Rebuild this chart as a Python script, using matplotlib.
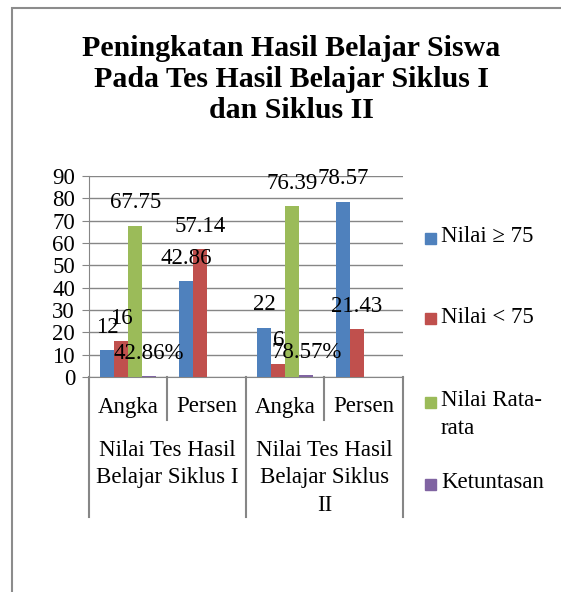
import numpy as np
import matplotlib
matplotlib.use("Agg")
import matplotlib.pyplot as plt
from matplotlib.patches import Rectangle
from matplotlib.transforms import blended_transform_factory

plt.rcParams['font.family'] = ['Liberation Serif', 'DejaVu Serif']

# data
kategori = ['Angka', 'Persen', 'Angka', 'Persen']
grup = ['Nilai Tes Hasil\nBelajar Siklus I', 'Nilai Tes Hasil\nBelajar Siklus\nII']
seri = ['Nilai \u2265 75', 'Nilai < 75', 'Nilai Rata-\nrata', 'Ketuntasan']
nilai_atas = [12, 42.86, 22, 78.57]
nilai_bawah = [16, 57.14, 6, 21.43]
rata_rata = [67.75, None, 76.39, None]
ketuntasan = [0.4286, None, 0.7857, None]
label_ketuntasan = ['42.86%', None, '78.57%', None]
warna = ['#4F81BD', '#C0504D', '#9BBB59', '#8064A2']

W, H = 561, 592
fs = 16.5
fig = plt.figure(figsize=(W / 100, H / 100), dpi=100)

# outer chart border (cut off at right and bottom like the screenshot)
fig.patches.append(Rectangle((12 / W, -0.1), 1.2, 1 - 8 / H + 0.1, transform=fig.transFigure,
                             fill=False, edgecolor='#8c8c8c', linewidth=1.5))

fig.text(291.5 / W, 1 - 35 / H,
         'Peningkatan Hasil Belajar Siswa\nPada Tes Hasil Belajar Siklus I\ndan Siklus II',
         ha='center', va='top', fontsize=21.5, fontweight='bold', linespacing=1.18)

ax = fig.add_axes([89 / W, 1 - 377 / H, 314 / W, 201 / H])
ax.set_xlim(0, 4)
ax.set_ylim(0, 90)
ax.set_yticks(range(0, 91, 10))
ax.yaxis.grid(True, color='#868686', linewidth=1)
ax.set_axisbelow(True)
for s in ['top', 'right']:
    ax.spines[s].set_visible(False)
ax.spines['left'].set_color('#868686')
ax.spines['bottom'].set_color('#868686')
ax.tick_params(axis='y', length=5, color='#868686', labelsize=fs, pad=5)
ax.set_xticks([])

lebar = 0.178
semua = [nilai_atas, nilai_bawah, rata_rata, ketuntasan]
for i, seri_nilai in enumerate(semua):
    for k, v in enumerate(seri_nilai):
        if v is None:
            continue
        xc = k + 0.5 + (i - 1.5) * lebar
        ax.bar(xc, v, width=lebar, color=warna[i], zorder=3)
        teks = label_ketuntasan[k] if i == 3 else f'{v:g}'
        ax.annotate(teks, (xc, v), xytext=(0, 16.5), textcoords='offset points',
                    ha='center', va='center', fontsize=fs, zorder=4)

# category separators and labels below the axis
tr = blended_transform_factory(ax.transData, fig.transFigure)
for x in [0, 2, 4]:
    ax.plot([x, x], [1 - 377 / H, 1 - 517 / H], transform=tr, color='#868686',
            linewidth=1.5, clip_on=False)
for x in [1, 3]:
    ax.plot([x, x], [1 - 377 / H, 1 - 420 / H], transform=tr, color='#868686',
            linewidth=1.5, clip_on=False)
for k, nama in enumerate(kategori):
    ax.text(k + 0.5, 1 - 407 / H, nama, transform=tr, ha='center', va='center', fontsize=fs)
for g, nama in enumerate(grup):
    ax.text(g * 2 + 1, 1 - 440 / H, nama, transform=tr, ha='center', va='top',
            fontsize=fs, linespacing=1.4)

# legend
leg_y = [238, 319, 402, 484]
for i, nama in enumerate(seri):
    yc = 1 - leg_y[i] / H
    fig.patches.append(Rectangle((425 / W, yc - 5.5 / H), 11 / W, 11 / H,
                                 transform=fig.transFigure, color=warna[i]))
    fig.text(441 / W, yc + 12 / H, nama, ha='left', va='top', fontsize=fs, linespacing=1.45)

fig.savefig('out.png', dpi=100)
